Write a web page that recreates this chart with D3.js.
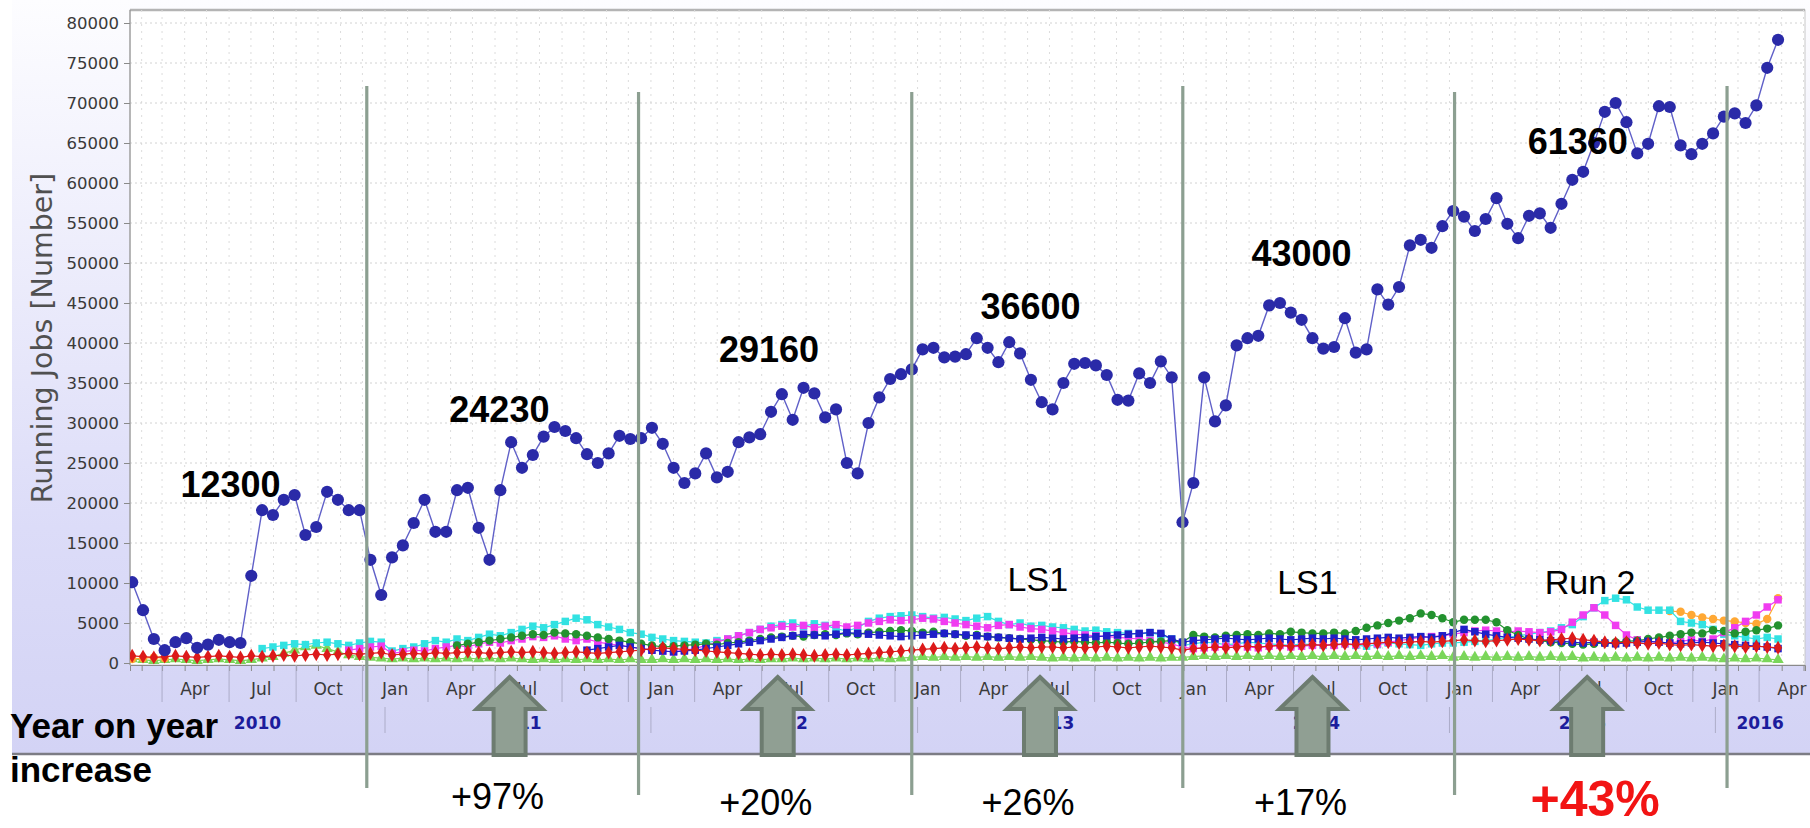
<!DOCTYPE html>
<html>
<head>
<meta charset="utf-8">
<script src="https://cdn.jsdelivr.net/npm/d3@7"></script>
<style>
  body { margin: 0; background: #fff; }
  svg { display: block; }
</style>
</head>
<body>
<div id="chart"></div>
<script>
// running jobs, one point roughly every two weeks
var firstDate = new Date(2010, 0, 19),
    lastDate = new Date(2016, 2, 27);

var totalJobs = [
  10100,6600,3000,1600,2600,3100,1900,2300,2900,2600,2500,10900,
  19100,18500,20400,21000,16000,17000,21400,20400,19100,19100,12900,8500,
  13200,14700,17500,20400,16400,16400,21600,21900,16900,12900,21600,27600,
  24400,26000,28300,29500,29000,28100,26100,25000,26200,28400,28000,28100,
  29400,27400,24400,22500,23700,26200,23200,23900,27600,28200,28600,31400,
  33600,30400,34400,33700,30700,31700,25000,23700,30000,33200,35500,36100,
  36700,39200,39400,38200,38300,38600,40600,39400,37600,40100,38700,35400,32600,
  31700,35000,37400,37500,37200,36000,32900,32800,36200,35000,37700,35700,
  17600,22500,35700,30200,32200,39700,40600,40900,44700,45000,43800,42900,40600,
  39300,39500,43100,38800,39200,46700,44800,47000,52200,52900,51900,54600,
  56500,55800,54000,55500,58100,54900,53100,55900,56200,54400,57400,60400,
  61400,65000,68900,70000,67600,63700,64900,69600,69500,64700,63600,64900,66200,
  68300,68700,67500,69700,74400,77900
];

// the smaller contributions near the bottom (null = not shown)
var cyanJobs = [
  null,null,null,null,null,null,null,null,null,null,null,null,
  1800,2000,2200,2400,2300,2500,2600,2400,2200,2500,2700,2600,
  1500,1800,2000,2400,2800,2600,3000,2800,3200,3600,3400,3800,
  4200,4600,4400,4800,5200,5600,5400,4800,4500,4200,3800,3600,
  3200,3000,2800,2700,2600,2500,2800,3000,3400,3800,4200,4600,
  4800,5000,4600,4900,4700,4300,4000,4400,5200,5600,5800,5900,
  6000,5800,5600,5700,5500,5300,5600,5800,5200,4800,5000,4600,4700,
  4500,4400,4200,4000,4100,3900,3800,3700,3600,3800,3500,3000,
  2200,2400,2600,2500,2300,2400,2600,2500,2400,2300,2200,2400,2300,
  2200,2300,2400,2200,2100,2300,2500,2400,2300,2200,2400,2500,
  2500,2600,2700,2800,3000,3200,3400,3600,3800,4000,4400,4800,
  5800,6900,7800,8100,7900,7000,6600,6600,6600,5200,5000,4800,4200,
  3600,3400,3200,3000,3200,3000
];
var magentaJobs = [
  null,null,null,null,null,null,null,null,null,null,null,null,
  null,null,null,null,null,null,null,null,1600,1800,2000,2100,
  1200,1400,1600,1500,1800,2000,2200,2000,2400,2600,2500,2800,
  3000,3300,3200,3400,3000,2800,3000,2600,2400,2200,2000,1800,
  1600,1500,1400,1600,1800,2200,2600,3000,3400,3800,4200,4400,
  4600,4500,4700,4400,4600,4800,4500,4700,5000,5200,5400,5300,
  5400,5600,5500,5200,5000,4800,4600,4400,4700,4800,4500,4300,4200,
  4000,3800,3600,3500,3400,3300,3200,3100,3000,2800,2600,2400,
  2000,1800,1900,2000,2100,2200,2000,1900,2100,2200,2000,2100,2200,
  2300,2200,2400,2300,2500,2400,2600,2800,3000,3200,3300,3400,
  3600,3800,4000,4100,4000,3900,4000,3900,3800,3900,4200,5100,
  6000,6900,6000,4700,3500,2900,2700,2600,2500,2700,2900,2700,3000,
  3800,4400,5200,6000,7000,7900
];
var greenJobs = [
  null,null,null,null,null,null,null,null,null,null,null,null,
  null,null,null,null,null,null,null,null,null,null,null,null,
  null,null,null,null,null,null,2200,2400,2600,2800,3000,3200,
  3400,3600,3500,3800,3700,3600,3400,3200,3000,2800,2600,2400,
  2200,2000,2100,2200,2300,2400,2300,2500,2600,2800,3000,3200,
  3300,3400,3300,3500,3600,3500,3700,3600,3800,3900,4000,4100,
  4000,3800,3900,3700,3600,3400,3500,3300,3200,3100,3000,2900,2800,
  2700,2600,2700,2600,2500,2600,2500,2400,2500,2600,2700,2800,
  2600,3500,3300,3200,3400,3500,3600,3500,3700,3600,3900,3800,3700,
  3700,3800,3700,4000,4400,4700,5000,5300,5600,6200,6000,5600,
  5100,5400,5400,5400,5100,4100,3500,3000,2800,2600,2500,2400,
  2300,2400,2500,2600,2700,2800,3000,3200,3400,3600,3800,3700,4100,
  4000,3700,3900,4100,4300,4700
];
var redJobs = [
  900,800,700,800,900,800,700,800,900,800,700,900,
  800,900,1000,900,1000,1100,1000,1100,1200,1100,1200,1300,
  1000,1100,1200,1100,1300,1200,1300,1400,1300,1200,1300,1400,
  1300,1400,1300,1200,1300,1400,1300,1200,1300,1400,1500,1600,
  1800,1900,1800,1700,1600,1500,1400,1300,1200,1100,1000,1100,
  1000,1100,1000,900,1000,1100,1000,1100,1200,1300,1400,1500,
  1600,1700,1800,1900,1800,1900,2000,1900,1800,1900,2000,1900,2000,
  2000,1900,2000,1900,2000,2100,2000,1900,2000,2100,2000,1900,
  1600,1800,1900,2000,1900,2000,2100,2000,2100,2200,2100,2200,2300,
  2200,2300,2400,2300,2400,2500,2600,2500,2600,2700,2600,2700,
  2800,2900,2800,2700,2800,2900,3000,2900,2800,2900,3000,3100,
  2900,2800,2600,2500,2600,2500,2400,2500,2300,2200,2300,2200,2100,
  2200,2100,2000,2100,2000,1900
];
var blueJobs = [
  null,null,null,null,null,null,null,null,null,null,null,null,
  null,null,null,null,null,null,null,null,null,null,null,null,
  null,null,null,null,null,null,null,null,null,null,null,null,
  null,null,null,null,null,null,1600,1800,2000,2200,2000,1800,
  1600,1500,1400,1500,1600,1800,2000,2200,2400,2600,2800,3000,
  3200,3400,3600,3500,3400,3600,3800,3700,3600,3500,3400,3300,
  3400,3500,3600,3700,3600,3500,3400,3300,3200,3100,3000,3100,3200,
  3100,3000,3100,3200,3300,3400,3500,3600,3700,3800,3700,3000,
  2600,2800,2900,3000,3100,3000,2900,3000,3100,3000,2900,3000,3100,
  3000,3100,3000,2900,3000,3100,3200,3100,3200,3300,3200,3400,
  3800,4200,3900,3600,3400,3200,3100,3000,2900,2800,2700,2600,
  2500,2600,2500,2400,2500,2600,2700,2600,2500,2400,2500,2600,2500,
  2400,2300,2200,2100,2000,1800
];
var limeJobs = [
  500,400,300,400,500,400,300,400,500,400,300,400,
  600,800,1200,1600,2000,2200,1800,1400,1000,800,700,600,
  500,600,500,600,500,600,500,600,500,600,500,600,
  500,400,500,400,500,400,500,400,500,400,500,400,
  400,500,400,500,400,500,400,500,400,500,400,500,
  500,600,500,600,500,600,500,600,500,600,500,600,
  700,800,700,800,700,800,700,800,700,800,700,800,700,
  600,700,600,700,600,700,600,700,600,700,600,700,
  700,800,900,800,900,800,900,800,900,800,900,800,900,
  800,900,800,900,800,900,800,900,800,900,800,900,
  700,800,700,800,700,800,700,800,700,800,700,800,
  600,700,600,700,600,700,600,700,600,700,600,700,600,
  500,600,500,600,500,400
];
var orangeJobs = [
  500,600,700,600,null,null,null,null,null,null,null,null,
  null,null,null,null,null,null,null,null,null,null,null,null,
  null,null,null,null,null,null,null,null,null,null,null,null,
  null,null,null,null,null,null,null,null,null,null,null,null,
  null,null,null,null,null,null,null,null,null,null,null,null,
  null,null,null,null,null,null,null,null,null,null,null,null,
  null,null,null,null,null,null,null,null,null,null,null,null,null,
  null,null,null,null,null,null,null,null,null,null,null,null,
  null,null,null,null,null,null,null,null,null,null,null,null,null,
  null,null,null,null,null,null,null,null,null,null,null,null,
  null,null,null,null,null,null,null,null,null,null,null,null,
  null,null,null,null,null,null,null,null,6500,6400,6000,5700,5500,
  5300,5200,5000,4900,5500,8100
];

// axis labels
var yTicks = [0,5000,10000,15000,20000,25000,30000,35000,40000,45000,50000,55000,60000,65000,70000,75000,80000];
var quarterNames = ["Jan","Apr","Jul","Oct"];
var years = [2010,2011,2012,2013,2014,2015,2016];

// annotations of the slide
var peakLabels = ["12300","24230","29160","36600","43000","61360"];
var peakDates = [new Date(2010,5,3), new Date(2011,5,7), new Date(2012,5,11), new Date(2013,5,5), new Date(2014,5,12), new Date(2015,5,26)];
var peakValues = [20750, 30125, 37625, 43000, 49625, 63625];
var yearDividers = [new Date(2010,11,7), new Date(2011,11,15), new Date(2012,11,24), new Date(2013,11,31), new Date(2015,0,8), new Date(2016,0,17)];
var arrowDates = [new Date(2011,5,21), new Date(2012,5,23), new Date(2013,5,18), new Date(2014,5,27), new Date(2015,6,9)];
var increases = ["+97%","+20%","+26%","+17%","+43%"];
var notes = ["LS1","LS1","Run 2"];
var noteDates = [new Date(2013,5,15), new Date(2014,5,20), new Date(2015,6,13)];
var noteValues = [9000, 8600, 8600];

var width = 1810, height = 828;
var plotL = 130, plotR = 1805, plotT = 10, plotB = 665;
var tickFont = "'DejaVu Sans', Verdana, sans-serif";
var slideFont = "'Liberation Sans', Arial, sans-serif";

var svg = d3.select("#chart").append("svg")
  .attr("width", width)
  .attr("height", height);

var x = d3.scaleTime()
  .domain([new Date(2010,0,16), new Date(2016,4,3)])
  .range([plotL, plotR]);
var y = d3.scaleLinear()
  .domain([0, 80000])
  .range([663, 23]);

// index -> date of the sample (numbers, so every sample gets its own Date)
var sampleTime = d3.scaleLinear()
  .domain([0, totalJobs.length - 1])
  .range([+firstDate, +lastDate]);
function sampleDate(i) { return new Date(sampleTime(i)); }

var defs = svg.append("defs");
var grad = defs.append("linearGradient").attr("id", "lav")
  .attr("x1", 0).attr("y1", 0).attr("x2", 0).attr("y2", 1);
grad.append("stop").attr("offset", "0%").attr("stop-color", "#fdfdff");
grad.append("stop").attr("offset", "70%").attr("stop-color", "#dcdcf8");
grad.append("stop").attr("offset", "100%").attr("stop-color", "#d3d3f5");
defs.append("clipPath").attr("id", "plotclip")
  .append("rect")
  .attr("x", plotL).attr("y", plotT)
  .attr("width", plotR - plotL).attr("height", plotB - plotT);

// lavender frame and white plot area
svg.append("rect")
  .attr("x", 12).attr("y", 0)
  .attr("width", width - 12).attr("height", 754)
  .attr("fill", "url(#lav)");
svg.append("rect")
  .attr("x", plotL).attr("y", plotT)
  .attr("width", plotR - plotL).attr("height", plotB - plotT)
  .attr("fill", "#fff")
  .attr("stroke", "#c8c8c8");
svg.append("line")
  .attr("x1", plotL).attr("x2", plotR)
  .attr("y1", plotT).attr("y2", plotT)
  .attr("stroke", "#b4b4b4").attr("stroke-width", 2.5);
svg.append("line")
  .attr("x1", 12).attr("x2", width)
  .attr("y1", 754).attr("y2", 754)
  .attr("stroke", "#7c7c84").attr("stroke-width", 2.5);

// grid
var grid = svg.append("g");
grid.selectAll(".vgrid")
  .data(d3.timeMonth.range(x.domain()[0], x.domain()[1]))
  .enter().append("line")
  .attr("x1", function(d) { return x(d); })
  .attr("x2", function(d) { return x(d); })
  .attr("y1", plotT).attr("y2", plotB)
  .attr("stroke", "#dcdcdc")
  .attr("stroke-dasharray", "2,5");
grid.selectAll(".hgrid")
  .data(yTicks.slice(1))
  .enter().append("line")
  .attr("x1", plotL).attr("x2", plotR)
  .attr("y1", function(d) { return y(d); })
  .attr("y2", function(d) { return y(d); })
  .attr("stroke", "#d2d2d2")
  .attr("stroke-dasharray", "2,3");

// y axis
var yAxis = svg.append("g")
  .attr("transform", "translate(" + plotL + ",0)")
  .call(d3.axisLeft(y).tickValues(yTicks).tickFormat(d3.format("d")).tickSize(6).tickPadding(5));
yAxis.select(".domain").attr("stroke", "#8a8a8a").attr("d", "M0," + plotT + "V" + plotB);
yAxis.selectAll(".tick line").attr("stroke", "#8a8a8a");
yAxis.selectAll("text")
  .style("font-family", tickFont)
  .style("font-size", "16.5px")
  .attr("fill", "#3a3a3a");

svg.append("text")
  .attr("transform", "translate(52,338) rotate(-90)")
  .attr("text-anchor", "middle")
  .style("font-family", tickFont)
  .style("font-size", "28.5px")
  .attr("fill", "#505050")
  .text("Running Jobs [Number]");

// x axis: month ticks, quarter labels, year band
var xAxis = svg.append("g")
  .attr("transform", "translate(0," + plotB + ")")
  .call(d3.axisBottom(x).ticks(d3.timeMonth.every(1)).tickSize(6).tickFormat(""));
xAxis.select(".domain").attr("stroke", "#8a8a8a");
xAxis.selectAll(".tick line").attr("stroke", "#8a8a8a");

var quarterDates = [];
years.forEach(function(yr) {
  quarterNames.forEach(function(name, q) {
    var d = new Date(yr, q * 3, 15);
    if (x(d) > plotL + 5 && x(d) < plotR) quarterDates.push({ date: d, name: name });
  });
});
svg.selectAll(".qlabel")
  .data(quarterDates)
  .enter().append("text")
  .attr("x", function(d) { return x(d.date); })
  .attr("y", 695)
  .attr("text-anchor", "middle")
  .style("font-family", tickFont)
  .style("font-size", "17px")
  .attr("fill", "#3a3a3a")
  .text(function(d) { return d.name; });

var quarterSeps = d3.timeMonth.range(x.domain()[0], x.domain()[1])
  .filter(function(d) { return d.getMonth() % 3 === 2; });
svg.selectAll(".qsep")
  .data(quarterSeps)
  .enter().append("line")
  .attr("x1", function(d) { return x(d); })
  .attr("x2", function(d) { return x(d); })
  .attr("y1", plotB).attr("y2", 702)
  .attr("stroke", "#acacc8");

var yearStarts = years.slice(1).map(function(yr) { return new Date(yr, 0, 1); });
svg.selectAll(".ysep")
  .data(yearStarts)
  .enter().append("line")
  .attr("x1", function(d) { return x(d); })
  .attr("x2", function(d) { return x(d); })
  .attr("y1", 707).attr("y2", 733)
  .attr("stroke", "#acacc8");

svg.selectAll(".ylabel")
  .data(years)
  .enter().append("text")
  .attr("x", function(yr) {
    var a = Math.max(x(new Date(yr, 0, 1)), plotL);
    var b = Math.min(x(new Date(yr + 1, 0, 1)), plotR);
    return (a + b) / 2;
  })
  .attr("y", 729)
  .attr("text-anchor", "middle")
  .style("font-family", tickFont)
  .style("font-size", "17px")
  .style("font-weight", "bold")
  .attr("fill", "#1c1c9c")
  .text(function(yr) { return yr; });

// series
var plotArea = svg.append("g").attr("clip-path", "url(#plotclip)");

function toPoints(values) {
  return values.map(function(v, i) { return { date: sampleDate(i), value: v }; });
}

var line = d3.line()
  .defined(function(d) { return d.value !== null; })
  .x(function(d) { return x(d.date); })
  .y(function(d) { return y(d.value); });

var smallSeries = [
  { values: limeJobs, color: "#7ad65a", shape: d3.symbolTriangle },
  { values: orangeJobs, color: "#ffa834", shape: d3.symbolCircle },
  { values: cyanJobs, color: "#32e2e2", shape: d3.symbolSquare },
  { values: magentaJobs, color: "#f03cf0", shape: d3.symbolSquare },
  { values: greenJobs, color: "#23922f", shape: d3.symbolCircle },
  { values: blueJobs, color: "#1f1fc8", shape: d3.symbolSquare },
  { values: redJobs, color: "#dc1a1a", shape: d3.symbolDiamond }
];

smallSeries.forEach(function(s) {
  var pts = toPoints(s.values);
  plotArea.append("path")
    .datum(pts)
    .attr("fill", "none")
    .attr("stroke", s.color)
    .attr("stroke-width", 1.2)
    .attr("d", line);
  plotArea.selectAll(null)
    .data(pts.filter(function(d) { return d.value !== null; }))
    .enter().append("path")
    .attr("transform", function(d) { return "translate(" + x(d.date) + "," + y(d.value) + ")"; })
    .attr("d", d3.symbol().type(s.shape).size(56))
    .attr("fill", s.color);
});

var mainPts = toPoints(totalJobs);
plotArea.append("path")
  .datum(mainPts)
  .attr("fill", "none")
  .attr("stroke", "#6060c8")
  .attr("stroke-width", 1.4)
  .attr("d", line);
plotArea.selectAll(".dot")
  .data(mainPts)
  .enter().append("circle")
  .attr("class", "dot")
  .attr("cx", function(d) { return x(d.date); })
  .attr("cy", function(d) { return y(d.value); })
  .attr("r", 6.1)
  .attr("fill", "#2a2aa8");

// slide annotations
var dividerTop = [86, 92, 92, 86, 92, 86];
var dividerBottom = [788, 795, 795, 788, 795, 788];
svg.selectAll(".divider")
  .data(yearDividers)
  .enter().append("line")
  .attr("x1", function(d) { return x(d); })
  .attr("x2", function(d) { return x(d); })
  .attr("y1", function(d, i) { return dividerTop[i]; })
  .attr("y2", function(d, i) { return dividerBottom[i]; })
  .attr("stroke", "#8c9f91")
  .attr("stroke-width", 3.2);

function arrowPath(cx) {
  var tip = 677, headBase = 709, bottom = 755, hw = 33, sw = 16;
  var p = d3.path();
  p.moveTo(cx, tip);
  p.lineTo(cx + hw, headBase);
  p.lineTo(cx + sw, headBase);
  p.lineTo(cx + sw, bottom);
  p.lineTo(cx - sw, bottom);
  p.lineTo(cx - sw, headBase);
  p.lineTo(cx - hw, headBase);
  p.closePath();
  return p.toString();
}
svg.selectAll(".arrow")
  .data(arrowDates)
  .enter().append("path")
  .attr("d", function(d) { return arrowPath(x(d)); })
  .attr("fill", "#909f93")
  .attr("stroke", "#6d7c70")
  .attr("stroke-width", 4)
  .attr("stroke-linejoin", "miter");

svg.selectAll(".peak")
  .data(peakLabels)
  .enter().append("text")
  .attr("x", function(d, i) { return x(peakDates[i]); })
  .attr("y", function(d, i) { return y(peakValues[i]); })
  .attr("text-anchor", "middle")
  .style("font-family", slideFont)
  .style("font-size", "36px")
  .style("font-weight", "bold")
  .attr("fill", "#000")
  .text(function(d) { return d; });

svg.selectAll(".note")
  .data(notes)
  .enter().append("text")
  .attr("x", function(d, i) { return x(noteDates[i]); })
  .attr("y", function(d, i) { return y(noteValues[i]); })
  .attr("text-anchor", "middle")
  .style("font-family", slideFont)
  .style("font-size", "34px")
  .attr("fill", "#000")
  .text(function(d) { return d; });

svg.selectAll(".incr")
  .data(increases)
  .enter().append("text")
  .attr("x", function(d, i) { return x(arrowDates[i]) + (i === 4 ? 8 : -12); })
  .attr("y", function(d, i) { return i === 4 ? 816 : (i === 0 ? 809 : 815); })
  .attr("text-anchor", "middle")
  .style("font-family", slideFont)
  .style("font-size", function(d, i) { return i === 4 ? "50px" : "36px"; })
  .style("font-weight", function(d, i) { return i === 4 ? "bold" : "normal"; })
  .attr("fill", function(d, i) { return i === 4 ? "#f21414" : "#000"; })
  .text(function(d) { return d; });

svg.append("text")
  .attr("x", 10).attr("y", 738)
  .style("font-family", slideFont)
  .style("font-size", "35px")
  .style("font-weight", "bold")
  .text("Year on year");
svg.append("text")
  .attr("x", 10).attr("y", 782)
  .style("font-family", slideFont)
  .style("font-size", "35px")
  .style("font-weight", "bold")
  .text("increase");
</script>
</body>
</html>
